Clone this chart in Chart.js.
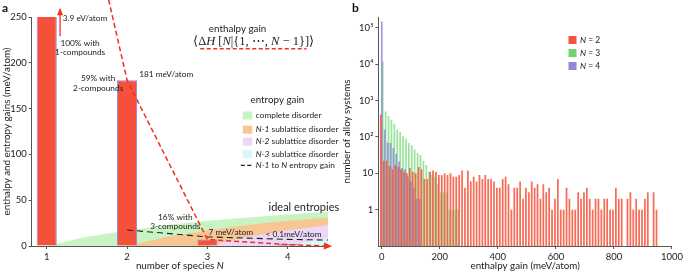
<!DOCTYPE html>
<html>
<head>
<meta charset="utf-8">
<script src="https://cdn.jsdelivr.net/npm/chart.js@4.4.0/dist/chart.umd.min.js"></script>
<style>
  body { margin: 0; background: #fff; }
  #wrap { position: relative; width: 685px; height: 271px; }
  canvas { position: absolute; top: 0; }
  #chartA { left: 0; }
  #chartB { left: 340px; }
</style>
</head>
<body>
<div id="wrap">
  <canvas id="chartA" width="340" height="271"></canvas>
  <canvas id="chartB" width="345" height="271"></canvas>
</div>
<script>
// ---- panel a: enthalpy and entropy gains vs number of species ----
const species = [1, 2, 3, 4];
const enthalpyGain = [3900, 181, 7, 0.1]; // meV/atom
const trendN = [1.77, 2, 3, 4, 4.45];
const trendGain = [269, 181, 7, 1.5, 0];
const entropyN = [1, 1.5, 2, 2.5, 3, 3.5, 4, 4.5];
const completeDisorder = [0, 10, 17, 23, 27.5, 31, 34.5, 37.5];
const sub1Disorder = [null, null, 0, 10, 17, 23, 27.5, 31];
const sub2Disorder = [null, null, null, null, 0, 10, 17, 23];
const sub3Disorder = [null, null, null, null, null, null, 0, 9];
const stepN = [2, 3, 4, 4.5];
const stepGain = [17.5, 10, 7.2, 6.5];

// ---- panel b: histogram of enthalpy gain, 10 meV bins ----
const histBins = [0, 10, 20, 30, 40, 50, 60, 70, 80, 90, 100, 110, 120, 130, 140, 150, 160, 170, 180, 190,
  200, 210, 220, 230, 240, 250, 260, 270, 280, 290, 300, 310, 320, 330, 340, 350, 360, 370, 380, 390,
  400, 410, 420, 430, 440, 450, 460, 470, 480, 490, 500, 510, 520, 530, 540, 550, 560, 570, 580, 590,
  600, 610, 620, 630, 640, 650, 660, 670, 680, 690, 700, 710, 720, 730, 740, 750, 760, 770, 780, 790,
  800, 810, 820, 830, 840, 850, 860, 870, 880, 890, 900, 910, 920, 930, 940, 950];
const countN2 = [410, 22, 22, 16, 13, 17, 15, 13, 11, 10, 14, 11, 10, 15, 13, 7, 7, 11, 12, 11,
  9, 9, 10, 9, 10, 8, 8, 9, 12, 4, 12, 6, 8, 6, 9, 7, 9, 7, 7, 6,
  4, 4, 7, 8, 5, 1, 4, 4, 6, 2, 4, 3, 6, 4, 5, 2, 5, 3, 4, 1,
  2, 7, 1, 1, 4, 2, 1, 1, 3, 2, 3, 4, 2, 1, 2, 2, 1, 2, 2, 1,
  1, 4, 2, 2, null, 2, 3, 1, 2, 1, 1, 2, 3, null, 3, 1];
const countN3 = [12000, 500, 380, 300, 230, 160, 137, 105, 90, 68, 59, 45, 36, 32, 22, 17, 11, 9, 8, 5,
  3, 3, 3, 1, 1, 1, 1];
const countN4 = [150000, 160, 70, 68, 50, 34, 21, 14, 13, 8, 6, 4, 2, 2];
const histTicks = [1, 10, 100, 1000, 10000, 100000];
const histTickLabels = ['1', '10', '10²', '10³', '10⁴', '10⁵'];
const enthalpyTicks = [0, 200, 400, 600, 800, 1000];

const FONT = 'Lato';
const INK = '#222';
const AXIS = '#555';

function pts(xs, ys) {
  return xs.map((x, i) => ({ x: x, y: ys[i] })).filter(p => p.y !== null && p.y !== undefined);
}

function rich(ctx, segs, x, y, size, align, family, color) {
  family = family || FONT;
  const fonts = segs.map(s => (s[1] ? 'italic ' : '') + size + 'px "' + family + '"');
  let w = 0;
  const ws = segs.map((s, i) => { ctx.font = fonts[i]; const m = ctx.measureText(s[0]).width; w += m; return m; });
  let cx = align === 'center' ? x - w / 2 : (align === 'right' ? x - w : x);
  ctx.textAlign = 'left';
  ctx.textBaseline = 'middle';
  ctx.fillStyle = color || INK;
  segs.forEach((s, i) => { ctx.font = fonts[i]; ctx.fillText(s[0], cx, y); cx += ws[i]; });
}

function vertical(ctx, segs, x, y, size) {
  ctx.save();
  ctx.translate(x, y);
  ctx.rotate(-Math.PI / 2);
  rich(ctx, segs, 0, 0, size, 'center');
  ctx.restore();
}

function axisStyle() {
  return {
    offset: false,
    grid: { offset: false, drawOnChartArea: false, drawTicks: true, tickLength: 3, color: AXIS },
    border: { display: true, color: AXIS, width: 1 },
    ticks: { font: { family: FONT, size: 9.5 }, color: INK, padding: 2, maxRotation: 0, autoSkip: false,
      callback: v => String(v) }
  };
}

// notes for panel a in data coordinates
const notesA = [
  { segs: [['3.9 eV/atom']], x: 1.2, y: 249, align: 'left' },
  { segs: [['100% with']], x: 1.415, y: 221.6, align: 'center' },
  { segs: [['1-compounds']], x: 1.415, y: 211.4, align: 'center' },
  { segs: [['59% with']], x: 1.64, y: 182.6, align: 'center' },
  { segs: [['2-compounds']], x: 1.64, y: 172.6, align: 'center' },
  { segs: [['181 meV/atom']], x: 2.15, y: 187, align: 'left' },
  { segs: [['16% with']], x: 2.6, y: 31.2, align: 'center' },
  { segs: [['3-compounds']], x: 2.6, y: 21.4, align: 'center' },
  { segs: [['7 meV/atom']], x: 3.013, y: 15.3, align: 'left' },
  { segs: [['< 0.1meV/atom']], x: 3.722, y: 13.1, align: 'left' },
  { segs: [['ideal entropies']], x: 3.76, y: 42.4, align: 'left', size: 11 },
  { segs: [['enthalpy gain']], x: 3.375, y: 237, align: 'center', size: 9.8 },
  { segs: [['entropy gain']], x: 3.87, y: 159.5, align: 'center', size: 9.8 }
];

const areaColors = ['#c8f4c2', '#f8c693', '#ebd8f7', '#d6f8f7'];
const legendA = [
  { segs: [['complete disorder']], color: areaColors[0], y: 142.5 },
  { segs: [['N-1', true], [' sublattice disorder']], color: areaColors[1], y: 127 },
  { segs: [['N-2', true], [' sublattice disorder']], color: areaColors[2], y: 114 },
  { segs: [['N-3', true], [' sublattice disorder']], color: areaColors[3], y: 100.5 },
  { segs: [['N-1', true], [' to '], ['N', true], [' entropy gain']], dash: true, y: 88 }
];

const decorA = {
  id: 'decorA',
  afterDatasetsDraw(chart) {
    const ctx = chart.ctx;
    const xs = chart.scales.x, ys = chart.scales.y;
    const X = v => xs.getPixelForValue(v), Y = v => ys.getPixelForValue(v);

    // arrowhead at end of the enthalpy trend line
    const meta = chart.getDatasetMeta(1).data;
    const p1 = meta[meta.length - 2], p2 = meta[meta.length - 1];
    const ang = Math.atan2(p2.y - p1.y, p2.x - p1.x);
    ctx.save();
    ctx.fillStyle = '#f2301c';
    ctx.translate(p2.x, p2.y);
    ctx.rotate(ang);
    ctx.beginPath();
    ctx.moveTo(8, 0); ctx.lineTo(0, -3.5); ctx.lineTo(0, 3.5); ctx.closePath();
    ctx.fill();
    ctx.restore();

    // arrow on the clipped first bar
    ctx.save();
    ctx.strokeStyle = '#f2301c';
    ctx.fillStyle = '#f2301c';
    ctx.lineWidth = 1.3;
    const ax = X(1.166);
    ctx.beginPath(); ctx.moveTo(ax, Y(229)); ctx.lineTo(ax, Y(254)); ctx.stroke();
    ctx.beginPath(); ctx.moveTo(ax, Y(260)); ctx.lineTo(ax - 3, Y(252)); ctx.lineTo(ax + 3, Y(252)); ctx.closePath(); ctx.fill();
    ctx.restore();

    notesA.forEach(n => rich(ctx, n.segs, X(n.x), Y(n.y), n.size || 8.3, n.align));

    // enthalpy gain formula with red dashed underline
    const mx = X(3.575), my = Y(223.5);
    rich(ctx, [['⟨Δ'], ['H', true], [' ['], ['N', true], ['|{1, ⋯, '], ['N', true], [' − 1}]⟩']],
      mx, my, 12.5, 'center', 'Liberation Serif');
    ctx.save();
    ctx.strokeStyle = '#f2301c';
    ctx.lineWidth = 1.4;
    ctx.setLineDash([4, 2.5]);
    ctx.beginPath(); ctx.moveTo(X(2.91), Y(215.4)); ctx.lineTo(X(4.233), Y(215.4)); ctx.stroke();
    ctx.restore();

    // entropy legend
    const sx = X(3.44);
    legendA.forEach(item => {
      const y = Y(item.y);
      if (item.dash) {
        ctx.save();
        ctx.strokeStyle = INK; ctx.lineWidth = 1.1; ctx.setLineDash([4, 2.5]);
        ctx.beginPath(); ctx.moveTo(sx - 2, y); ctx.lineTo(sx + 10, y); ctx.stroke();
        ctx.restore();
      } else {
        ctx.fillStyle = item.color;
        ctx.fillRect(sx, y - 4, 9.5, 8);
      }
      rich(ctx, item.segs, sx + 13, y, 8.3, 'left');
    });

    // axis titles and panel letter
    const ca = chart.chartArea;
    rich(ctx, [['number of species '], ['N', true]], (ca.left + ca.right) / 2, 266, 9.8, 'center');
    vertical(ctx, [['enthalpy and entropy gains (meV/atom)']], 7, (ca.top + ca.bottom) / 2, 9.8);
    ctx.font = 'bold 12px "' + FONT + '"';
    ctx.fillStyle = '#111';
    ctx.textAlign = 'left';
    ctx.textBaseline = 'middle';
    ctx.fillText('a', 2, 8);
  }
};

const axA = axisStyle(), ayA = axisStyle();
new Chart(document.getElementById('chartA'), {
  data: {
    datasets: [
      { type: 'bar', label: 'enthalpy gain', data: pts(species, enthalpyGain),
        backgroundColor: '#f4503a', borderColor: '#8d80e6', borderWidth: 1,
        barPercentage: 0.25, categoryPercentage: 1, minBarLength: 2, order: 1 },
      { type: 'line', label: 'enthalpy trend', data: pts(trendN, trendGain),
        borderColor: '#f2301c', borderWidth: 1.5, borderDash: [5, 3], pointRadius: 0, clip: false, order: 0 },
      { type: 'line', label: 'N-1 to N entropy gain', data: pts(stepN, stepGain),
        borderColor: INK, borderWidth: 1.1, borderDash: [6, 4], pointRadius: 0, order: 0 },
      { type: 'line', label: 'N-3 sublattice disorder', data: pts(entropyN, sub3Disorder),
        borderWidth: 0, backgroundColor: areaColors[3], fill: 'origin', pointRadius: 0, order: 2 },
      { type: 'line', label: 'N-2 sublattice disorder', data: pts(entropyN, sub2Disorder),
        borderWidth: 0, backgroundColor: areaColors[2], fill: 'origin', pointRadius: 0, order: 3 },
      { type: 'line', label: 'N-1 sublattice disorder', data: pts(entropyN, sub1Disorder),
        borderWidth: 0, backgroundColor: areaColors[1], fill: 'origin', pointRadius: 0, order: 4 },
      { type: 'line', label: 'complete disorder', data: pts(entropyN, completeDisorder),
        borderWidth: 0, backgroundColor: areaColors[0], fill: 'origin', pointRadius: 0, order: 5 }
    ]
  },
  options: {
    responsive: false,
    animation: false,
    layout: { padding: { left: 0, right: 12, top: 17, bottom: 0 } },
    plugins: { legend: { display: false }, tooltip: { enabled: false } },
    scales: {
      x: Object.assign(axA, {
        type: 'linear', min: 0.813, max: 4.5,
        afterBuildTicks: s => { s.ticks = species.map(v => ({ value: v })); },
        afterFit: s => { s.height = 25; }
      }),
      y: Object.assign(ayA, {
        type: 'linear', min: 0, max: 250,
        afterBuildTicks: s => { s.ticks = [0, 50, 100, 150, 200, 250].map(v => ({ value: v })); },
        afterFit: s => { s.width = 31.7; }
      })
    }
  },
  plugins: [decorA]
});

// ---- panel b ----
const histColors = ['rgba(244, 82, 58, 0.85)', 'rgba(104, 212, 104, 0.65)', 'rgba(128, 126, 214, 0.75)'];
const legendB = [
  { n: '2', color: '#f4533b', y: 40 },
  { n: '3', color: '#6fd46f', y: 53 },
  { n: '4', color: '#8c8ad8', y: 66 }
];

const decorB = {
  id: 'decorB',
  afterDatasetsDraw(chart) {
    const ctx = chart.ctx;
    const ca = chart.chartArea;
    legendB.forEach(item => {
      ctx.fillStyle = item.color;
      ctx.fillRect(228.5, item.y - 4, 8, 8);
      rich(ctx, [['N', true], [' = ' + item.n]], 240, item.y, 8.5, 'left');
    });
    rich(ctx, [['enthalpy gain (meV/atom)']], (ca.left + ca.right) / 2, 266, 9.8, 'center');
    vertical(ctx, [['number of alloy systems']], 7, (ca.top + ca.bottom) / 2, 9.8);
    ctx.font = 'bold 12px "' + FONT + '"';
    ctx.fillStyle = '#111';
    ctx.textAlign = 'left';
    ctx.textBaseline = 'middle';
    ctx.fillText('b', 12, 8);
  }
};

// grouped bars, each wider than its slot so neighbours overlap slightly
const histSet = (label, vals, color, order) => ({
  type: 'bar', label: label, data: pts(histBins, vals),
  backgroundColor: color, borderWidth: 0,
  barPercentage: 1.8, categoryPercentage: 1, order: order
});

const axB = axisStyle(), ayB = axisStyle();
ayB.ticks.callback = (v, i) => histTickLabels[i];
new Chart(document.getElementById('chartB'), {
  data: {
    datasets: [
      histSet('N = 2', countN2, histColors[0], 0),
      histSet('N = 3', countN3, histColors[1], 2),
      histSet('N = 4', countN4, histColors[2], 1)
    ]
  },
  options: {
    responsive: false,
    animation: false,
    layout: { padding: { left: 0, right: 9, top: 17, bottom: 0 } },
    plugins: { legend: { display: false }, tooltip: { enabled: false } },
    scales: {
      x: Object.assign(axB, {
        type: 'linear', min: -12, max: 1000,
        afterBuildTicks: s => { s.ticks = enthalpyTicks.map(v => ({ value: v })); },
        afterFit: s => { s.height = 25; }
      }),
      y: Object.assign(ayB, {
        type: 'logarithmic', min: 0.1, max: 200000,
        afterBuildTicks: s => { s.ticks = histTicks.map(v => ({ value: v })); },
        afterFit: s => { s.width = 38.3; }
      })
    }
  },
  plugins: [decorB]
});
</script>
</body>
</html>
